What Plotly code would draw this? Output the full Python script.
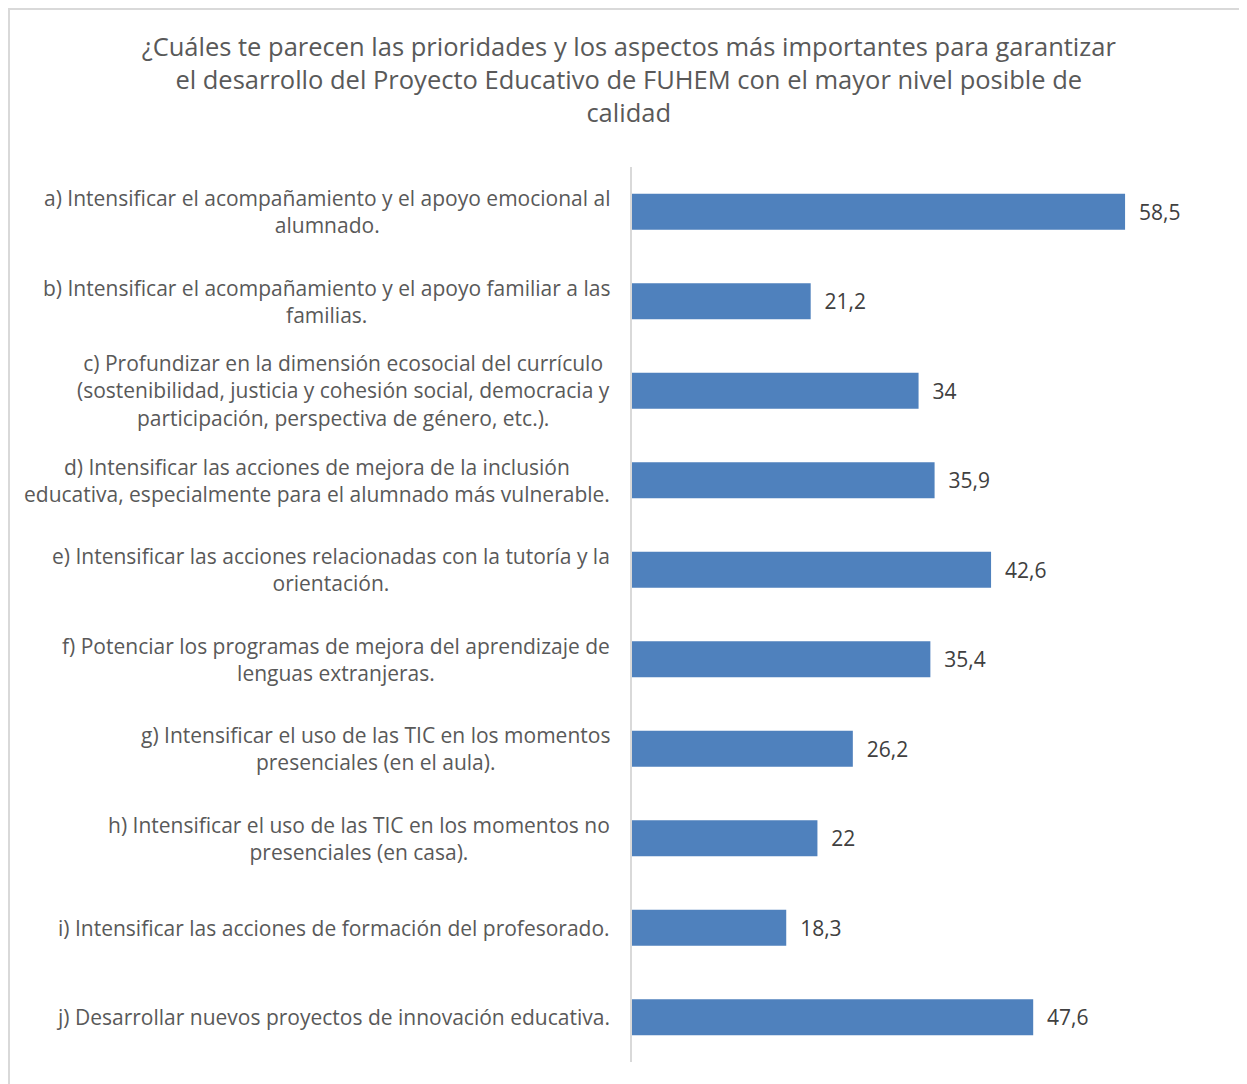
import plotly.graph_objects as go

W, H = 1247, 1084

title_lines = [
    "¿Cuáles te parecen las prioridades y los aspectos más importantes para garantizar",
    "el desarrollo del Proyecto Educativo de FUHEM con el mayor nivel posible de",
    "calidad",
]

categories = [
    "a) Intensificar el acompañamiento y el apoyo emocional al<br>alumnado.",
    "b) Intensificar el acompañamiento y el apoyo familiar a las<br>familias.",
    "c) Profundizar en la dimensión ecosocial del currículo<br>(sostenibilidad, justicia y cohesión social, democracia y<br>participación, perspectiva de género, etc.).",
    "d) Intensificar las acciones de mejora de la inclusión<br>educativa, especialmente para el alumnado más vulnerable.",
    "e) Intensificar las acciones relacionadas con la tutoría y la<br>orientación.",
    "f) Potenciar los programas de mejora del aprendizaje de<br>lenguas extranjeras.",
    "g) Intensificar el uso de las TIC en los momentos<br>presenciales (en el aula).",
    "h) Intensificar el uso de las TIC en los momentos no<br>presenciales (en casa).",
    "i) Intensificar las acciones de formación del profesorado.",
    "j) Desarrollar nuevos proyectos de innovación educativa.",
]
values = [58.5, 21.2, 34, 35.9, 42.6, 35.4, 26.2, 22, 18.3, 47.6]

labels = ["\u00a0\u00a0" + str(v).replace(".", ",") for v in values]
keys = [c.split(")")[0] for c in categories]

BAR = "#4F81BD"
FONT = "Open Sans, Calibri, sans-serif"

# page has an 8px body margin, so the figure is shrunk by that much
FW, FH = W - 8, H - 8
L, R, T, B = 624, 25, 159, 22
pw = FW - L - R
ph = FH - T - B

fig = go.Figure(go.Bar(
    x=values,
    y=keys,
    orientation="h",
    width=0.4,
    marker=dict(color=BAR, line=dict(width=0)),
    text=labels,
    textposition="outside",
    textfont=dict(size=21, color="#404040", family=FONT),
    cliponaxis=False,
))

for k, c in zip(keys, categories):
    fig.add_annotation(
        x=-0.0346, xref="paper", y=k, yref="y",
        text=c, showarrow=False, xanchor="right", yanchor="middle",
        align="center", font=dict(size=21, color="#595959", family=FONT),
    )

# chart border (top/left edges; right/bottom fall outside the picture)
fig.add_shape(
    type="rect", xref="paper", yref="paper",
    x0=(1 - L) / pw, x1=(FW + 5 - L) / pw,
    y0=-(B + 5) / ph, y1=(FH - 1 - B) / ph,
    line=dict(color="#D9D9D9", width=2), fillcolor="rgba(0,0,0,0)", layer="below",
)

fig.update_layout(
    width=FW, height=FH,
    margin=dict(l=L, r=R, t=T, b=B),
    paper_bgcolor="white", plot_bgcolor="white",
    showlegend=False,
    title=dict(
        text="<br>".join(title_lines),
        x=0.501, xref="container", xanchor="center",
        y=1 - 48 / FH, yanchor="top",
        font=dict(size=25.5, color="#595959", family=FONT),
    ),
    xaxis=dict(range=[0, 70], visible=False, fixedrange=True),
    yaxis=dict(
        autorange="reversed", showticklabels=False, ticks="",
        showline=True, linecolor="#D9D9D9", linewidth=2,
        showgrid=False, zeroline=False,
    ),
    bargap=0.6,
)

fig.write_html("out.html")
